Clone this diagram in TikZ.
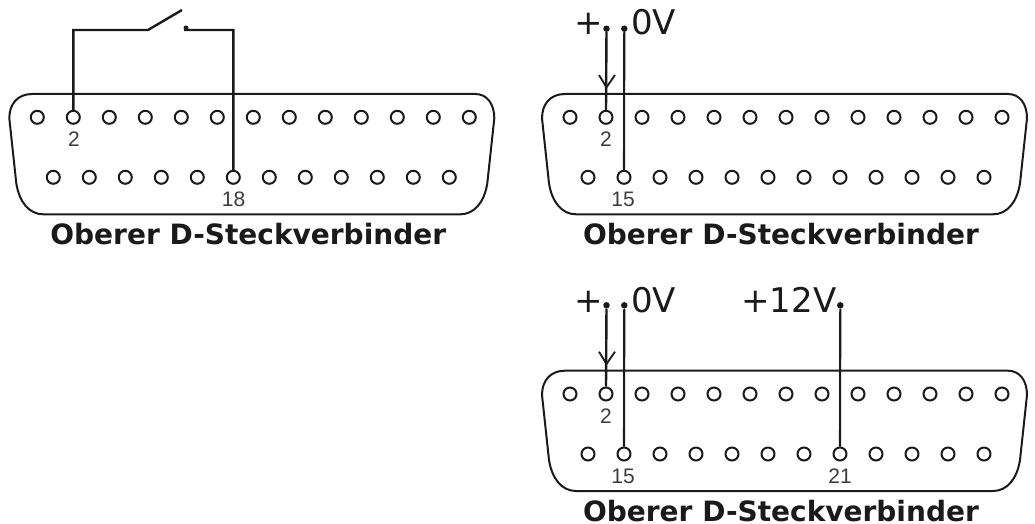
\documentclass[tikz,border=0pt]{standalone}
\usepackage{fontspec}
\setmainfont{DejaVu Sans}
\newfontfamily\numfont{Liberation Sans}
\definecolor{ink}{HTML}{1A1A1A}
\tikzset{x=1pt,y=-1pt,
 shell/.style={draw=ink,line width=2pt,line join=round},
 pin/.style={circle,draw=ink,line width=2pt,fill=white,inner sep=0pt,minimum size=13pt},
 wire/.style={draw=ink,line width=2.4pt},
 thinwire/.style={draw=ink,line width=2.1pt},
 term/.style={circle,fill=ink,inner sep=0pt,minimum size=6.5pt},
 captext/.style={font=\bfseries\fontsize{28}{28}\selectfont,text=ink,inner sep=0pt,anchor=base},
 pinno/.style={font=\numfont\fontsize{21}{21}\selectfont,text=ink!85,inner sep=0pt},
 volt/.style={font=\fontsize{34}{34}\selectfont,text=ink,inner sep=0pt},
 head/.style={draw=ink,line width=1.8pt},
}
% #1 name prefix, #2 x of left top pin, #3 y of top row
\newcommand{\dconn}[3]{%
 \draw[shell] ({#2-28},{#3+1}) .. controls ({#2-28},{#3-13}) and ({#2-20},{#3-23.3}) .. ({#2-5},{#3-23.3})
   -- ({#2+438},{#3-23.3}) .. controls ({#2+450},{#3-23.3}) and ({#2+457},{#3-13}) .. ({#2+457},{#3+1})
   -- ({#2+450},{#3+66}) .. controls ({#2+447},{#3+85}) and ({#2+437},{#3+97}) .. ({#2+423},{#3+97})
   -- ({#2+6},{#3+97}) .. controls ({#2-8},{#3+97}) and ({#2-18},{#3+85}) .. ({#2-21},{#3+66}) -- cycle;
 \coordinate (#1o) at (#2,#3);
 \node[captext] at ({#2+211},{#3+127}) {Oberer D-Steckverbinder};
}
% #4 offset of the lower row
\newcommand{\dpins}[4]{%
 \foreach \i in {1,...,13} \node[pin] (#1t\i) at ({#2+(\i-1)*36},#3) {};
 \foreach \i in {1,...,12} \node[pin] (#1b\i) at ({#2+#4+(\i-1)*36},{#3+60}) {};
}
\begin{document}
\begin{tikzpicture}
\useasboundingbox (0,0) rectangle (1035,524);
% connector 1
\dconn{a}{37.3}{117.3}
\coordinate (swl) at (148,30);
\coordinate (swt) at (182,10);
\coordinate (swr) at (184,30);
\coordinate (acorn) at (73.3,30);
\coordinate (bcorn) at (233.4,30);
\dpins{a}{37.3}{117.3}{16}
\draw[wire] (at2.north) -- (acorn) -- (swl) -- (swt);
\draw[wire] (ab6.north) -- (bcorn) -- (swr);
\node[term,minimum size=5pt] at (186,28) {};
\node[pinno] at (74,139.5) {2};
\node[pinno] at (233.5,199) {18};
% connector 2
\dconn{b}{570}{117.3}
\dpins{b}{570}{117.3}{18}
\node[term] (bp) at (606.5,28.7) {};
\node[term] (bz) at (624.3,28.7) {};
\draw[wire] (bp) -- (bt2.north);
\draw[thinwire] (bz) -- (bb2.north);
\draw[head] (599,75) -- (606.5,87.3) -- (615,75);
\node[volt,anchor=base] at (589,35) {+};
\node[volt,anchor=base west] at (631,35) {0V};
\node[pinno] at (606,139.5) {2};
\node[pinno] at (623,199) {15};
% connector 3
\dconn{c}{570}{394}
\dpins{c}{570}{394}{18}
\node[term] (cp) at (606.5,305.3) {};
\node[term] (cz) at (624.3,305.3) {};
\node[term] (cv) at (840.3,305.3) {};
\draw[wire] (cp) -- (ct2.north);
\draw[thinwire] (cz) -- (cb2.north);
\draw[thinwire] (cv) -- (cb8.north);
\draw[head] (599,351.7) -- (606.5,364) -- (615,351.7);
\node[volt,anchor=base] at (589,312.5) {+};
\node[volt,anchor=base west] at (631,312.5) {0V};
\node[volt,anchor=base east] at (836.5,312.5) {+12V};
\node[pinno] at (606,416) {2};
\node[pinno] at (623,476) {15};
\node[pinno] at (840,476) {21};
\end{tikzpicture}
\end{document}
